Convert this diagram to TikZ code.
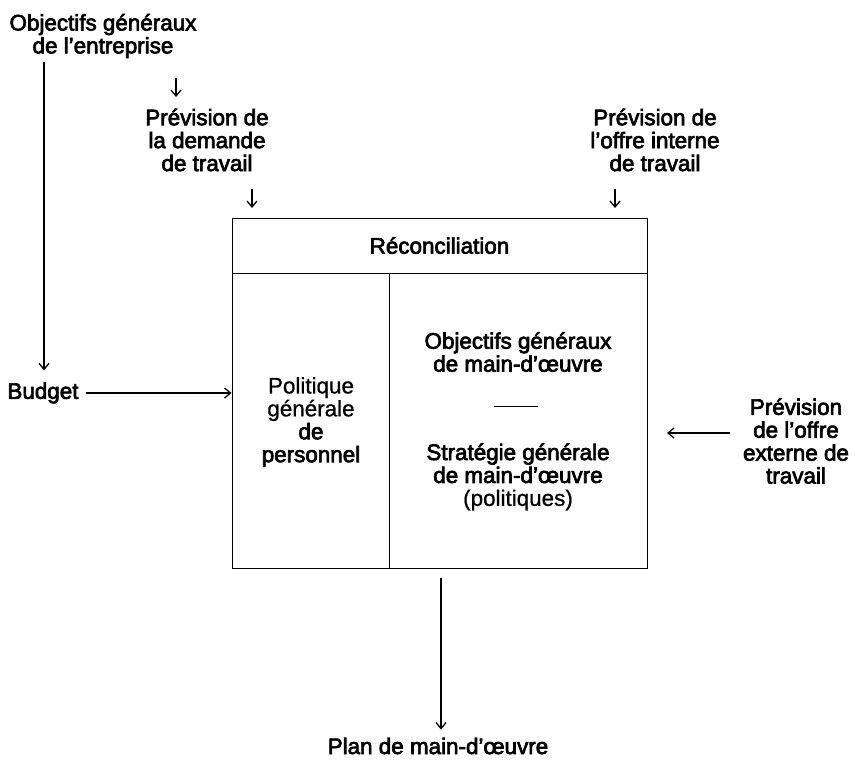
\documentclass[tikz,border=0pt]{standalone}
\usepackage{fontspec}
\newfontfamily\diagfont{Liberation Sans}[FakeBold=3]
\newfontfamily\lightf{Liberation Sans}[FakeBold=0.8]
\usetikzlibrary{arrows.meta}
\begin{document}
\begin{tikzpicture}[x=1bp,y=-1bp,
  lbl/.style={align=center, font=\diagfont\fontsize{22.5}{23}\selectfont, inner sep=0pt},
  pane/.style={draw, line width=0.9bp, inner sep=0pt},
  link/.style={line width=1.3bp, -{Straight Barb[length=6bp,width=10bp]}},
  trunk/.style={line width=2bp, -{Straight Barb[length=6bp,width=10bp,line width=1.3bp]}}
]
\useasboundingbox (0,0) rectangle (855,761);

% top inputs
\node[lbl] (obj) at (103,36) {Objectifs généraux\\de l’entreprise};
\node[lbl] (dem) at (207,140) {Prévision de\\la demande\\de travail};
\node[lbl] (int) at (655,140) {Prévision de\\l’offre interne\\de travail};

% central block
\node[pane, lbl, minimum width=415bp, minimum height=55bp] (rec) at (439.5,245.5) {Réconciliation};
\node[pane, minimum width=157bp, minimum height=295bp] (pol) at (310.5,420.5) {};
\node[pane, minimum width=258bp, minimum height=295bp] (strat) at (518,420.5) {};

\node[lbl] (poltext) at (311,422) {{\lightf Politique}\\{\lightf générale}\\de\\personnel};
\node[lbl] (omo) at (518,352) {Objectifs généraux\\de main-d’œuvre};
\draw[line width=1bp] (494,406) -- (538,406);
\node[lbl] (smo) at (518,477) {Stratégie générale\\de main-d’œuvre\\{\lightf (politiques)}};

% side and bottom
\node[lbl] (budget) at (43,393) {Budget};
\node[lbl] (ext) at (796,441) {Prévision\\de l’offre\\externe de\\travail};
\node[lbl] (plan) at (438,746) {Plan de main-d’œuvre};

% arrow end points
\coordinate (objfoot) at (44,62);
\coordinate (a1s) at (176,78);  \coordinate (a1e) at (176,97);
\coordinate (a2s) at (252,189); \coordinate (a2e) at (252,208);
\coordinate (a3s) at (615,189); \coordinate (a3e) at (615,208);
\coordinate (extTail) at (730,433); \coordinate (extTip) at (667,433);
\coordinate (planTop) at (441,578);

% connectors
\draw[trunk] (objfoot) -- ([yshift=12bp]budget.north -| objfoot);
\draw[link] (a1s) -- (a1e);
\draw[link] (a2s) -- (a2e);
\draw[link] (a3s) -- (a3e);
\draw[link] ([xshift=7bp]budget.east) -- (budget.east -| pol.west);
\draw[link] (extTail) -- (extTip);
\draw[link] (planTop) -- ([yshift=8bp]plan.north -| planTop);
\end{tikzpicture}
\end{document}
